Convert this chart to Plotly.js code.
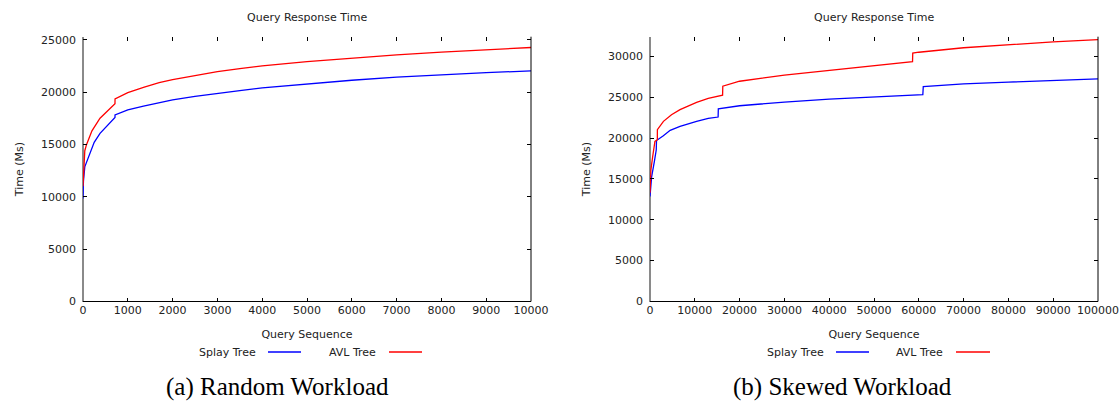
<!DOCTYPE html>
<html>
<head>
<meta charset="utf-8">
<script src="https://cdn.plot.ly/plotly-3.0.1.min.js"></script>
<style>html,body{margin:0;padding:0;background:#fff;}#chart{width:1119px;height:403px;}</style>
</head>
<body>
<div id="chart"></div>
<script>
// ---- Data ----
const seriesNames = ["Splay Tree", "AVL Tree"];
const chartTitle = "Query Response Time";
const xTitle = "Query Sequence";
const yTitle = "Time (Ms)";
const captions = ["(a) Random Workload", "(b) Skewed Workload"];

// (a) Random workload
const randomSplayX = [0, 10, 40, 120, 250, 380, 600, 714, 715, 850, 1000, 1350, 1700, 2000, 2500, 3000, 3500, 4000, 5000, 6000, 7000, 8000, 9000, 10000];
const randomSplayY = [9840, 11500, 12860, 13820, 15200, 16060, 17020, 17580, 17820, 18050, 18300, 18650, 19000, 19250, 19600, 19900, 20150, 20400, 20800, 21130, 21420, 21650, 21850, 22030];
const randomAvlX = [0, 20, 40, 80, 120, 200, 380, 600, 714, 715, 850, 1000, 1350, 1700, 2000, 2500, 3000, 3500, 4000, 5000, 6000, 7000, 8000, 9000, 10000];
const randomAvlY = [11000, 13000, 14400, 15000, 15400, 16300, 17500, 18450, 18900, 19350, 19650, 19950, 20450, 20900, 21200, 21600, 21950, 22250, 22500, 22900, 23250, 23550, 23820, 24060, 24260];

// (b) Skewed workload
const skewedSplayX = [0, 370, 1000, 1400, 1450, 2000, 2980, 4500, 6700, 10400, 13000, 15200, 15250, 20000, 30000, 40000, 50000, 60900, 61000, 70000, 80000, 90000, 100000];
const skewedSplayY = [12840, 15290, 17200, 18560, 19700, 19950, 20280, 20950, 21420, 22040, 22400, 22570, 23570, 23950, 24400, 24750, 25050, 25320, 26300, 26620, 26850, 27030, 27230];
const skewedAvlX = [0, 200, 600, 1100, 1640, 1650, 3000, 4800, 6700, 10400, 13000, 16200, 16250, 20000, 30000, 40000, 50000, 58600, 58650, 60000, 70000, 80000, 90000, 100000];
const skewedAvlY = [13300, 16100, 17740, 19580, 19790, 21020, 22040, 22860, 23470, 24370, 24850, 25250, 26350, 26950, 27700, 28280, 28850, 29350, 30400, 30500, 31050, 31430, 31760, 32050];

const colors = ["#0000ff", "#ff0000"];

// ---- Layout geometry ----
const W = 1119, H = 403;
const px = v => v / W, py = v => 1 - v / H;
const yDom = [py(301.5), py(36.7)];
const font = "DejaVu Sans, sans-serif";
const tickFont = {family: font, size: 11, color: "#222"};

function mkTrace(x, y, i, xa, ya) {
  return {x: x, y: y, type: "scatter", mode: "lines", name: seriesNames[i],
          line: {color: colors[i], width: 1.3}, xaxis: xa, yaxis: ya, showlegend: false,
          hoverinfo: "x+y"};
}

const data = [
  mkTrace(randomSplayX, randomSplayY, 0, "x", "y"),
  mkTrace(randomAvlX, randomAvlY, 1, "x", "y"),
  mkTrace(skewedSplayX, skewedSplayY, 0, "x2", "y2"),
  mkTrace(skewedAvlX, skewedAvlY, 1, "x2", "y2")
];

// x axis: ticks inside, mirrored on top (no top border line); its zero line is the grey left border
function xAxis(dom, range, dtick, anchor) {
  return {domain: dom, anchor: anchor, range: range, dtick: dtick, tick0: 0, tickformat: "d",
          ticks: "inside", ticklen: 4, tickcolor: "#000", tickwidth: 1,
          showline: false, mirror: "ticks",
          zeroline: true, zerolinecolor: "#8a8a8a", zerolinewidth: 1.6,
          showgrid: false, tickfont: tickFont,
          title: {text: xTitle, font: {family: font, size: 11, color: "#222"}, standoff: 14}};
}
// y axis: ticks inside on both sides; its zero line is the black bottom border
function yAxis(range, anchor) {
  return {domain: yDom, anchor: anchor, range: range, dtick: 5000, tick0: 0, tickformat: "d",
          ticks: "inside", ticklen: 4, tickcolor: "#000", tickwidth: 1,
          showline: false, mirror: "ticks",
          zeroline: true, zerolinecolor: "#000", zerolinewidth: 1,
          showgrid: false, tickfont: tickFont, ticklabelstandoff: 6,
          title: {text: yTitle, font: {family: font, size: 11, color: "#222"}, standoff: 15}};
}

const xDomA = [px(83), px(531)], xDomB = [px(650), px(1098)];
const rangeXA = [0, 10000], rangeXB = [0, 100000];
const rangeYA = [0, 25290], rangeYB = [0, 32400];

const annotations = [];
const shapes = [];
// right border of each plot frame
[["x", "y"], ["x2", "y2"]].forEach(a => {
  shapes.push({type: "line", xref: a[0] + " domain", yref: a[1] + " domain", x0: 1, x1: 1, y0: 0, y1: 1,
    line: {color: "#000", width: 1}, layer: "above"});
});
[[xDomA, 83, 531], [xDomB, 650, 1098]].forEach((d, k) => {
  const cx = (d[1] + d[2]) / 2;
  annotations.push({text: chartTitle, xref: "paper", yref: "paper", x: px(cx), y: py(18),
    xanchor: "center", yanchor: "middle", showarrow: false, font: {family: font, size: 11, color: "#222"}});
  annotations.push({text: captions[k], xref: "paper", yref: "paper", x: px(k === 0 ? 277 : 843), y: py(386.5),
    xanchor: "center", yanchor: "middle", showarrow: false, borderpad: 0,
    font: {family: "Liberation Serif, Times New Roman, serif", size: 25, color: "#000"}});
});
// legend (text then line sample, as in the reference)
const legendPos = [
  {textRight: 258, l0: 268, l1: 301, i: 0}, {textRight: 378, l0: 389, l1: 422, i: 1},
  {textRight: 826, l0: 836, l1: 869, i: 0}, {textRight: 945, l0: 956, l1: 990, i: 1}
];
legendPos.forEach(p => {
  annotations.push({text: seriesNames[p.i], xref: "paper", yref: "paper", x: px(p.textRight), y: py(352),
    xanchor: "right", yanchor: "middle", showarrow: false, font: {family: font, size: 11, color: "#222"}});
  shapes.push({type: "line", xref: "paper", yref: "paper", x0: px(p.l0), x1: px(p.l1), y0: py(352), y1: py(352),
    line: {color: colors[p.i], width: 1.3}});
});

const layout = {
  width: W, height: H, margin: {l: 0, r: 0, t: 0, b: 0},
  paper_bgcolor: "#fff", plot_bgcolor: "#fff", showlegend: false,
  font: {family: font, size: 11, color: "#222"},
  xaxis: xAxis(xDomA, rangeXA, 1000, "y"),
  yaxis: yAxis(rangeYA, "x"),
  xaxis2: xAxis(xDomB, rangeXB, 10000, "y2"),
  yaxis2: yAxis(rangeYB, "x2"),
  annotations: annotations, shapes: shapes
};

Plotly.newPlot("chart", data, layout, {displayModeBar: false, staticPlot: true});
</script>
</body>
</html>
